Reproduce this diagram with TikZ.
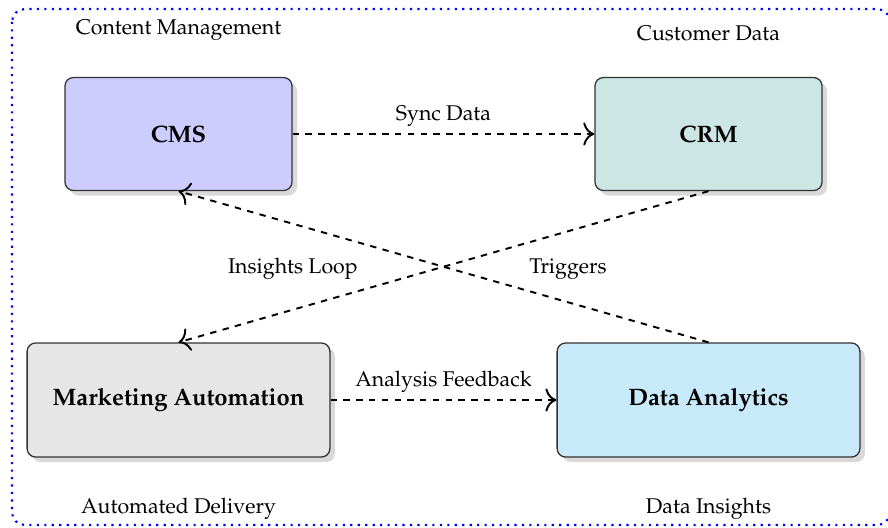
\documentclass[tikz,border=0pt]{standalone}
\usepackage[T1]{fontenc}
\usepackage{mathpazo}
\usetikzlibrary{shadows,positioning,arrows.meta}

\definecolor{cmsfill}{RGB}{204,204,255}
\definecolor{crmfill}{RGB}{204,229,229}
\definecolor{autofill}{RGB}{230,230,230}
\definecolor{anafill}{RGB}{199,233,250}

\begin{document}
\begin{tikzpicture}[x=0.469pt,y=-0.469pt,
  block/.style={draw=black!80, semithick, rounded corners=4pt,
    drop shadow={opacity=0.3}, align=center,
    font=\fontsize{11.15}{13.6}\selectfont\bfseries},
  smallblock/.style={block, minimum width=106.5pt, minimum height=53pt},
  wideblock/.style={block, minimum width=142pt, minimum height=53.5pt},
  flow/.style={draw, line width=0.9pt, dashed,
    -{To[scale=1.45]}},
  tag/.style={font=\normalsize},
  frame/.style={draw=blue, line width=1pt, dash pattern=on 1pt off 2.5pt,
    rounded corners=6pt}]

\useasboundingbox (0,0) rectangle (888,527);

% outer frame
\path[frame] (12,9) rectangle (890,525);

% systems
\node[smallblock, fill=cmsfill] (cms) at (178.5,134) {CMS};
\node[smallblock, fill=crmfill] (crm) at (708.5,134) {CRM};
\node[wideblock, fill=autofill] (auto) at (178.5,400) {Marketing Automation};
\node[wideblock, fill=anafill] (ana) at (708.5,400) {Data Analytics};

% captions
\node[tag, above=13.5pt of cms] (cmstag) {Content Management};
\node[tag, above=13.5pt of crm] (crmtag) {Customer Data};
\node[tag, below=15.5pt of auto] (autotag) {Automated Delivery};
\node[tag, below=15.5pt of ana] (anatag) {Data Insights};

% data flows
\draw[flow] (cms.east) -- node[tag, above=-0.3pt] (synclbl) {Sync Data} (crm.west);
\draw[flow] (auto.east) -- node[tag, above=-0.3pt] (feedlbl) {Analysis Feedback} (ana.west);
\draw[flow] (crm.south) -- node[tag, midway, right=36.5pt, yshift=-1pt] (triglbl) {Triggers} (auto.north);
\draw[flow] (ana.north) -- node[tag, midway, left=36.5pt, yshift=-1pt] (looplbl) {Insights Loop} (cms.south);

\end{tikzpicture}
\end{document}
